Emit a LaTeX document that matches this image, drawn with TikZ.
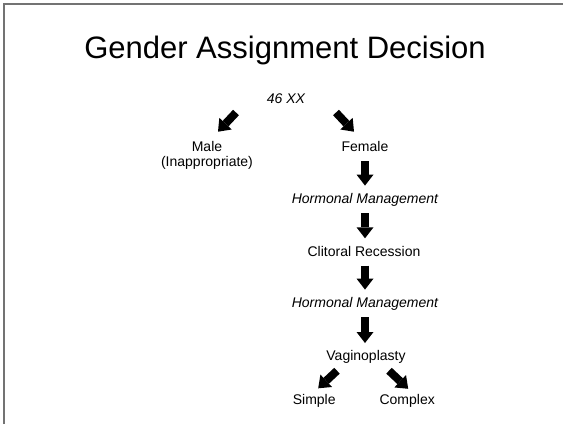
\documentclass[tikz,border=0pt]{standalone}
\usepackage{fontspec}
\setmainfont{Liberation Sans}
\usepackage{tikz}
\usetikzlibrary{arrows.meta,positioning}

\begin{document}
\begin{tikzpicture}[x=1pt,y=-1pt,
        lbl/.style={anchor=base,inner sep=0pt,font=\fontsize{14}{16}\selectfont},
        colnode/.style={lbl,text height=10pt,text depth=3pt},
        blockarrow/.style={line width=8pt,-{Triangle[length=11pt,width=17pt,line width=0pt]}},
        downarrow/.style={blockarrow,shorten <=6.5pt,shorten >=7.5pt}]
        \useasboundingbox (0,0) rectangle (563,424);

        % Slide frame
        \draw[black!55,line width=1.2pt] (4,424) -- (4,4) -- (563,4);

        % Title
        \node[anchor=base,inner sep=0pt,font=\fontsize{31}{37}\selectfont] (title) at (285,58.3) {Gender Assignment Decision};

        % Karyotype and first choice
        \node[lbl,font=\fontsize{14}{16}\selectfont\itshape] (xx) at (286,103) {46 XX};
        \node[lbl] (male) at (207,151.7) {Male};
        \node[lbl] (inapp) at (207,166.7) {(Inappropriate)};
        \node[colnode] (female) at (365,151.7) {Female};

        % Female pathway
        \node[colnode,font=\fontsize{14}{16}\selectfont\itshape] (hormA) at (365,203.3) {Hormonal Management};
        \node[colnode] (clit) at (364,256) {Clitoral Recession};
        \node[colnode,font=\fontsize{14}{16}\selectfont\itshape] (hormB) at (365,307.3) {Hormonal Management};
        \node[colnode] (vagino) at (366,360.7) {Vaginoplasty};
        \node[lbl] (simple) at (314.2,404.3) {Simple};
        \node[lbl] (complex) at (407.2,404.3) {Complex};

        % Arrows
        \draw[blockarrow] ([shift={(-50,9.5)}]xx.base) -- ([shift={(11,-20)}]male.base);
        \draw[blockarrow] ([shift={(50,9.5)}]xx.base) -- ([shift={(-11,-20)}]female.base);
        \draw[downarrow] (female.south) -- (female.south |- hormA.north);
        \draw[downarrow] (hormA.south) -- (hormA.south |- clit.north);
        \draw[downarrow] (hormA.south |- clit.south) -- (hormA.south |- hormB.north);
        \draw[downarrow] (hormB.south) -- (hormB.south |- vagino.north);
        \draw[blockarrow] ([shift={(-29,10)}]vagino.base) -- ([shift={(4,-16)}]simple.base);
        \draw[blockarrow] ([shift={(23,10)}]vagino.base) -- ([shift={(1,-15.5)}]complex.base);
    \end{tikzpicture}
\end{document}
